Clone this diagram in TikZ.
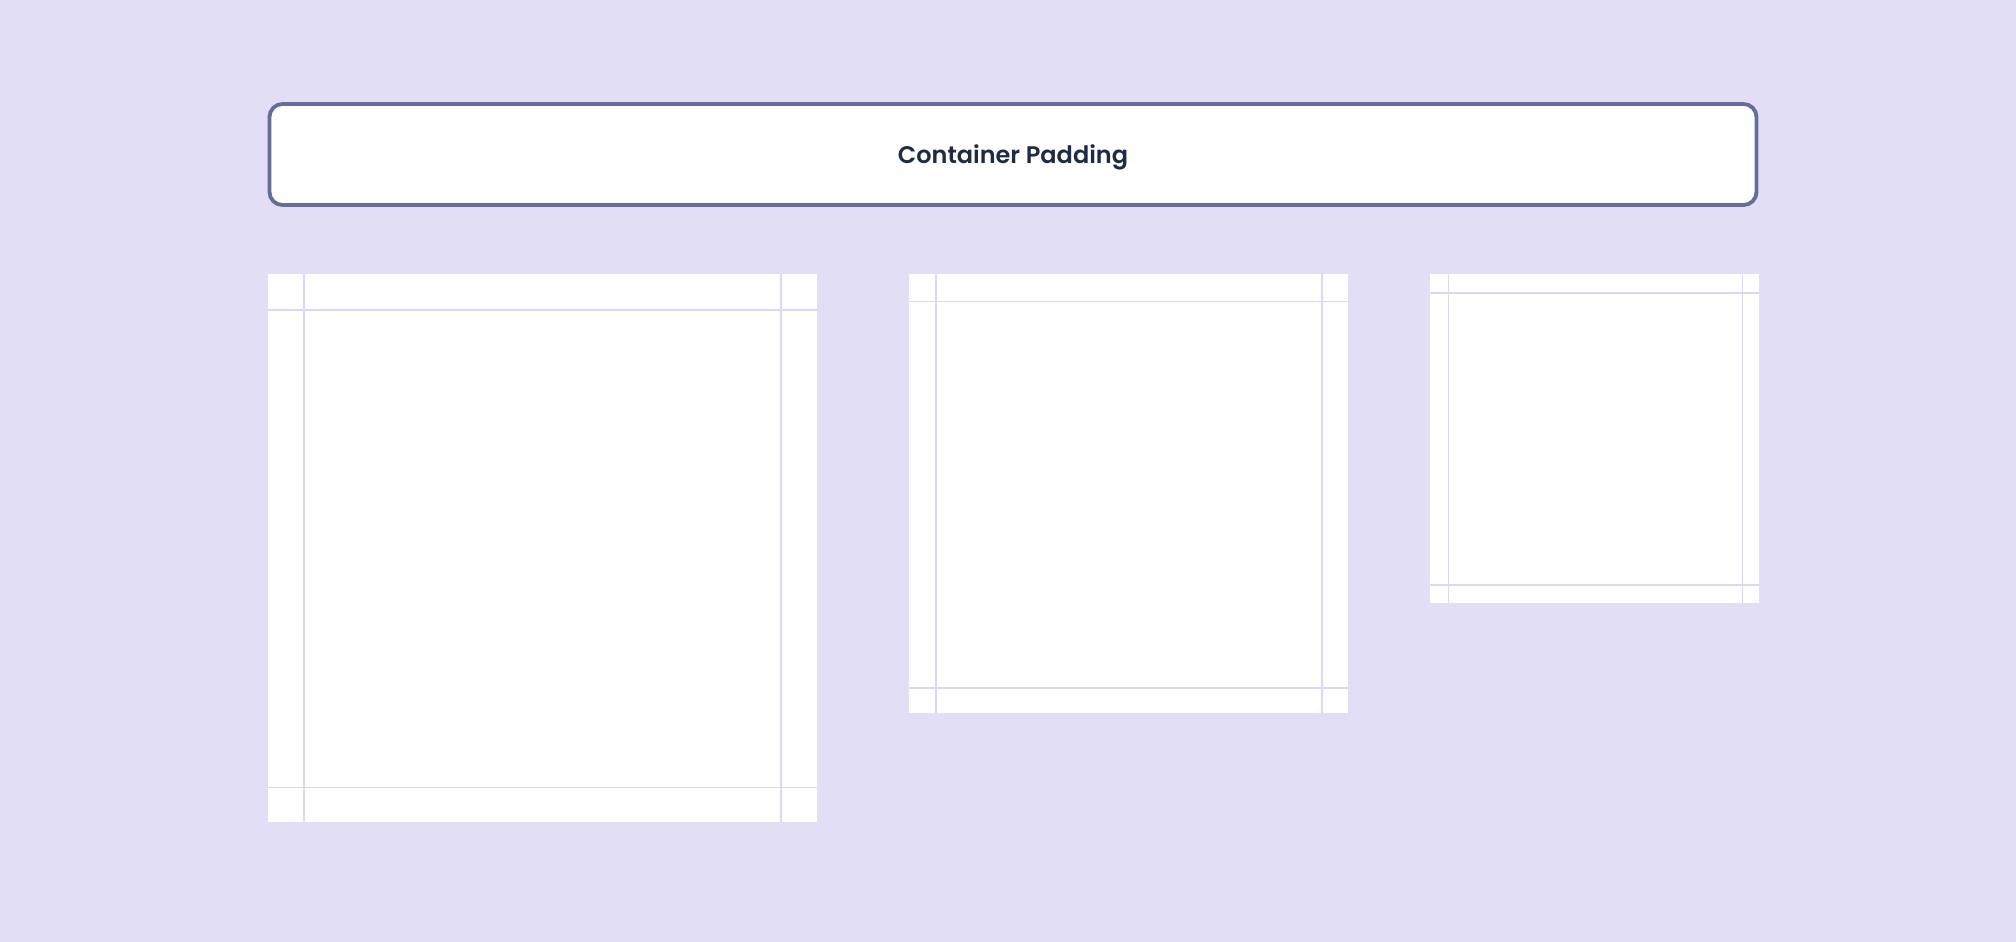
\documentclass[tikz,border=0pt]{standalone}
\usepackage{fontspec}
\newfontfamily\pop{Poppins SemiBold}
\definecolor{bg}{HTML}{E1DEF5}
\definecolor{frame}{HTML}{646E98}
\definecolor{guide}{HTML}{DCD7F6}
\definecolor{ink}{HTML}{1F2A44}
\begin{document}
\begin{tikzpicture}[x=1pt,y=-1pt,
  hdr/.style={draw=frame,line width=3.8pt,fill=white,rounded corners=13pt,minimum width=1487pt,minimum height=101pt,inner sep=0pt,font=\pop\fontsize{24}{28}\selectfont,text=ink},
  guideline/.style={draw=guide,line width=1.2pt}]
\fill[bg] (0,0) rectangle (2016,942);
\useasboundingbox (0,0) rectangle (2016,942);
\node[hdr] (header) at (1013,154.5) {};
\node[font=\pop\fontsize{24}{28}\selectfont,text=ink,inner sep=0pt] (title) at (1013,157) {Container Padding};
% box 1
\coordinate (a1) at (268,274); \coordinate (b1) at (817,822);
\fill[white] (a1) rectangle (b1);
\draw[guideline] (304,274) -- (304,822);
\draw[guideline] (781,274) -- (781,822);
\draw[guideline] (268,310) -- (817,310);
\draw[guideline] (268,787.5) -- (817,787.5);
% box 2
\coordinate (a2) at (909,274); \coordinate (b2) at (1348,713);
\fill[white] (a2) rectangle (b2);
\draw[guideline] (936,274) -- (936,713);
\draw[guideline] (1322,274) -- (1322,713);
\draw[guideline] (909,301.5) -- (1348,301.5);
\draw[guideline] (909,688) -- (1348,688);
% box 3
\coordinate (a3) at (1430,274); \coordinate (b3) at (1759,603);
\fill[white] (a3) rectangle (b3);
\draw[guideline] (1448.5,274) -- (1448.5,603);
\draw[guideline] (1742.5,274) -- (1742.5,603);
\draw[guideline] (1430,293) -- (1759,293);
\draw[guideline] (1430,585) -- (1759,585);
\end{tikzpicture}
\end{document}
